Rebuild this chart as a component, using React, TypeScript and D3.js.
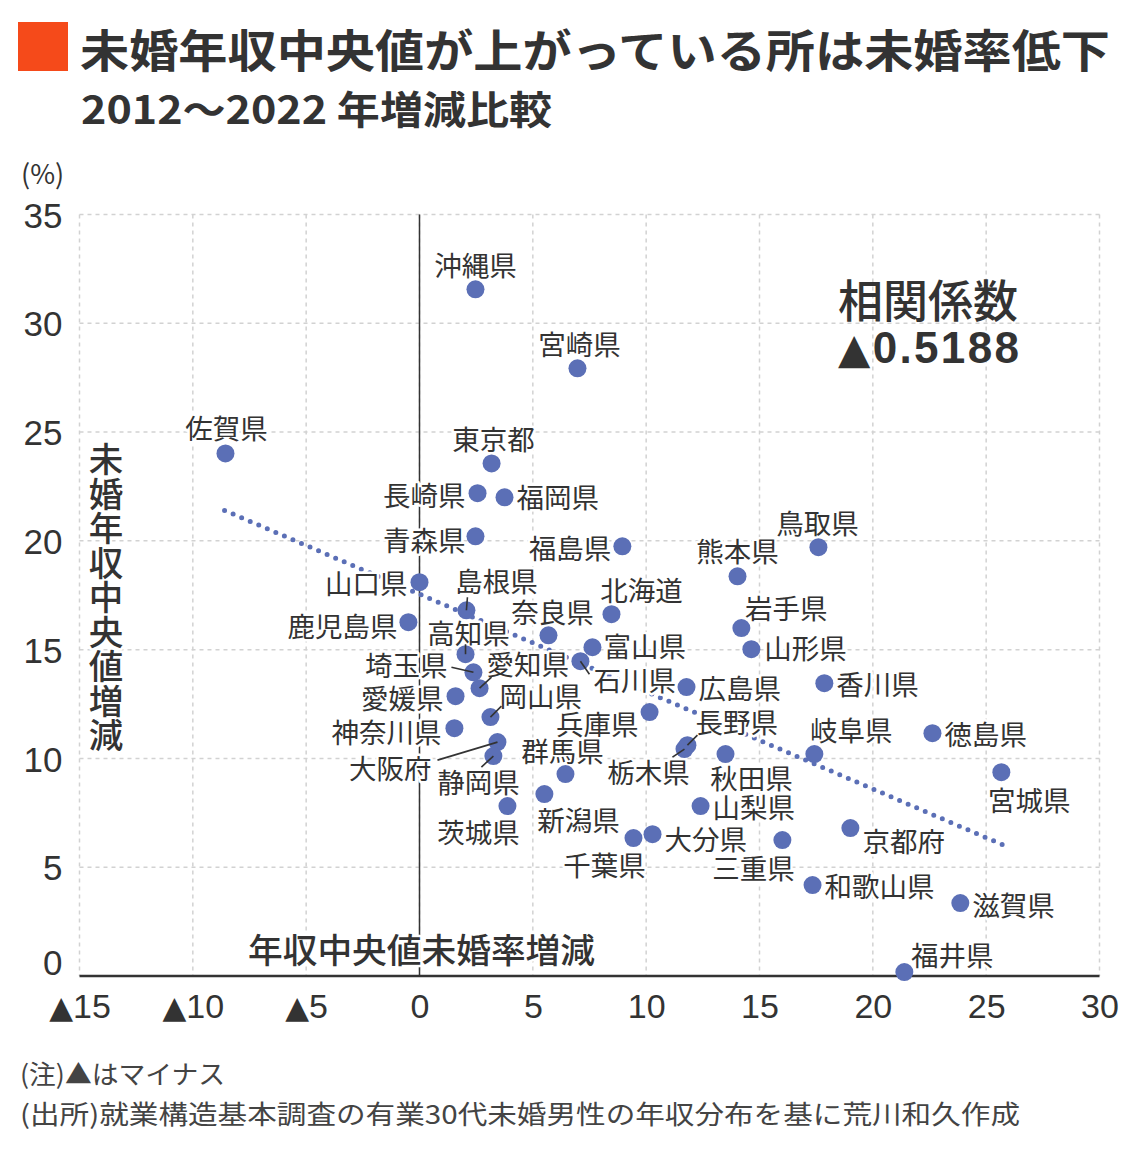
import React, { useEffect, useRef } from 'react'
import * as d3 from 'd3'

// 都道府県別 2012→2022 の増減（%）
const prefectures = [
  '沖縄県', '宮崎県', '佐賀県', '東京都', '長崎県', '福岡県', '青森県', '福島県',
  '鳥取県', '熊本県', '山口県', '島根県', '北海道', '鹿児島県', '岩手県', '奈良県',
  '富山県', '山形県', '高知県', '石川県', '埼玉県', '愛知県', '香川県', '広島県',
  '愛媛県', '兵庫県', '岡山県', '神奈川県', '徳島県', '大阪府', '静岡県', '長野県',
  '栃木県', '秋田県', '岐阜県', '宮城県', '群馬県', '新潟県', '茨城県', '山梨県',
  '京都府', '千葉県', '大分県', '三重県', '和歌山県', '滋賀県', '福井県',
]
// x: 年収中央値の増減
const incomeChange = [
  2.47, 6.97, -8.56, 3.18, 2.56, 3.75, 2.47, 8.95,
  17.6, 14.03, 0.0, 2.07, 8.47, -0.49, 14.2, 5.69,
  7.63, 14.64, 2.03, 7.1, 2.38, 2.65, 17.86, 11.78,
  1.59, 10.15, 3.13, 1.54, 22.63, 3.44, 3.26, 11.82,
  11.69, 13.5, 17.42, 25.67, 6.44, 5.51, 3.88, 12.4,
  19.01, 9.44, 10.28, 16.01, 17.34, 23.86, 21.39,
]
// y: 未婚率の増減
const unmarriedChange = [
  31.56, 27.93, 24.02, 23.56, 22.19, 22.0, 20.21, 19.75,
  19.71, 18.37, 18.1, 16.81, 16.63, 16.26, 15.99, 15.66,
  15.11, 15.02, 14.79, 14.47, 13.96, 13.23, 13.46, 13.28,
  12.86, 12.13, 11.9, 11.39, 11.16, 10.75, 10.11, 10.61,
  10.43, 10.2, 10.2, 9.37, 9.28, 8.36, 7.81, 7.81,
  6.8, 6.34, 6.52, 6.25, 4.18, 3.35, 0.18,
]

const xTicks = [-15, -10, -5, 0, 5, 10, 15, 20, 25, 30]
const xTickLabels = ['▲15', '▲10', '▲5', '0', '5', '10', '15', '20', '25', '30']
const yTicks = [0, 5, 10, 15, 20, 25, 30, 35]
const yTickLabels = ['0', '5', '10', '15', '20', '25', '30', '35']

// 回帰直線の両端
const trendX = [-8.6, 25.8]
const trendY = [21.4, 6.0]

const title = '未婚年収中央値が上がっている所は未婚率低下'
const subtitle = '2012～2022 年増減比較'
const yTitle = '未婚年収中央値増減'
const xTitle = '年収中央値未婚率増減'
const corrTitle = '相関係数'
const corrValue = '▲0.5188'
const notes = [
  '(注)▲はマイナス',
  '(出所)就業構造基本調査の有業30代未婚男性の年収分布を基に荒川和久作成',
]

// ラベル配置: [dx, dy, anchor, leaderDx?, leaderDy?]
type Place = [number, number, 'start' | 'middle' | 'end', number?, number?]
const labelPlace: Record<string, Place> = {
  沖縄県: [0, -25, 'middle'],
  宮崎県: [2, -25, 'middle'],
  佐賀県: [1, -26, 'middle'],
  東京都: [2, -25, 'middle'],
  長崎県: [-12, 1, 'end'],
  福岡県: [12, -1, 'start'],
  青森県: [-10, 3, 'end'],
  福島県: [-11, 1, 'end'],
  鳥取県: [-1, -25, 'middle'],
  熊本県: [0, -26, 'middle'],
  山口県: [-12, 0, 'end'],
  島根県: [30, -30, 'middle', 1, -13],
  北海道: [30, -25, 'middle'],
  鹿児島県: [-11, 3, 'end'],
  岩手県: [45, -21, 'middle'],
  奈良県: [4, -24, 'middle'],
  富山県: [11, -2, 'start'],
  山形県: [13, -2, 'start'],
  高知県: [3, -22, 'middle', 0, -10],
  石川県: [13, 18, 'start', 9, 13],
  埼玉県: [-26, -8, 'end', -22, -5],
  愛知県: [7, -25, 'start', 12, -11],
  香川県: [12, 0, 'start'],
  広島県: [12, 0, 'start'],
  愛媛県: [-12, 1, 'end'],
  兵庫県: [-11, 11, 'end'],
  岡山県: [9, -22, 'start', 11, -11],
  神奈川県: [-13, 3, 'end'],
  徳島県: [12, 0, 'start'],
  大阪府: [-66, 25, 'end', -60, 18],
  静岡県: [-15, 25, 'middle', -12, 11],
  長野県: [8, -24, 'start', 10, -10],
  栃木県: [-36, 22, 'middle', -12, 8],
  秋田県: [26, 23, 'middle'],
  岐阜県: [37, -25, 'middle'],
  宮城県: [28, 27, 'middle'],
  群馬県: [-3, -24, 'middle'],
  新潟県: [34, 25, 'middle'],
  茨城県: [-29, 25, 'middle'],
  山梨県: [12, 0, 'start'],
  京都府: [12, 12, 'start'],
  千葉県: [-29, 26, 'middle'],
  大分県: [12, 4, 'start'],
  三重県: [-29, 27, 'middle'],
  和歌山県: [12, 0, 'start'],
  滋賀県: [12, 1, 'start'],
  福井県: [48, -18, 'middle'],
}

const JP = '"Noto Sans CJK JP", "Noto Sans", sans-serif'
const NUM = '"Liberation Sans", "Noto Sans CJK JP", sans-serif'
const TRI = '"DejaVu Sans", sans-serif'
const DOT = '#5b6fb6'
const INK = '#333333'

// ▲ を細めのグリフで描く
const splitTriangle = (
  sel: d3.Selection<SVGTextElement, any, any, any>,
  label: string,
  triSize: number,
) => {
  sel.text(null)
  if (label.startsWith('▲')) {
    sel
      .append('tspan')
      .attr('font-family', TRI)
      .attr('font-size', triSize)
      .text('▲')
    sel.append('tspan').text(label.slice(1))
  } else {
    sel.append('tspan').text(label)
  }
}

const App: React.FC = () => {
  const svgRef = useRef<SVGSVGElement>(null)

  useEffect(() => {
    const svg = d3.select(svgRef.current)
    svg.selectAll('*').remove()

    const x = d3.scaleLinear().domain([-15, 30]).range([79.5, 1099.5])
    const y = d3.scaleLinear().domain([0, 35]).range([976, 214.5])

    const data = prefectures.map((name, i) => ({
      name,
      x: incomeChange[i],
      y: unmarriedChange[i],
    }))

    // header
    svg
      .append('rect')
      .attr('x', 18)
      .attr('y', 22)
      .attr('width', 50)
      .attr('height', 49)
      .attr('fill', '#f54a1a')
    svg
      .append('text')
      .attr('x', 80)
      .attr('y', 48)
      .attr('dominant-baseline', 'central')
      .attr('font-family', JP)
      .attr('font-weight', 700)
      .attr('font-size', 45)
      .attr('fill', INK)
      .attr('textLength', 1030)
      .attr('lengthAdjust', 'spacingAndGlyphs')
      .text(title)
    svg
      .append('text')
      .attr('x', 81)
      .attr('y', 107)
      .attr('dominant-baseline', 'central')
      .attr('font-family', JP)
      .attr('font-weight', 700)
      .attr('font-size', 39)
      .attr('fill', INK)
      .attr('textLength', 471)
      .attr('lengthAdjust', 'spacingAndGlyphs')
      .text(subtitle)
    svg
      .append('text')
      .attr('x', 21)
      .attr('y', 172)
      .attr('dominant-baseline', 'central')
      .attr('font-family', JP)
      .attr('font-size', 27)
      .attr('fill', INK)
      .text('(%)')

    // grid
    const grid = svg.append('g')
    grid
      .selectAll('line.gx')
      .data(xTicks)
      .enter()
      .append('line')
      .attr('x1', (d) => x(d))
      .attr('x2', (d) => x(d))
      .attr('y1', y(35))
      .attr('y2', y(0))
    grid
      .selectAll('line.gy')
      .data(yTicks.filter((d) => d > 0))
      .enter()
      .append('line')
      .attr('x1', x(-15))
      .attr('x2', x(30))
      .attr('y1', (d) => y(d))
      .attr('y2', (d) => y(d))
    grid
      .selectAll('line')
      .attr('stroke', '#d2d2d2')
      .attr('stroke-width', 1.5)
      .attr('stroke-dasharray', '4 4')

    // zero line and x axis line
    svg
      .append('line')
      .attr('x1', x(0))
      .attr('x2', x(0))
      .attr('y1', y(35))
      .attr('y2', y(0))
      .attr('stroke', INK)
      .attr('stroke-width', 1.5)
    svg
      .append('line')
      .attr('x1', x(-15))
      .attr('x2', x(30))
      .attr('y1', y(0))
      .attr('y2', y(0))
      .attr('stroke', INK)
      .attr('stroke-width', 2.5)

    // tick labels
    svg
      .append('g')
      .attr('transform', `translate(0,${y(0)})`)
      .call(
        d3
          .axisBottom(x)
          .tickValues(xTicks)
          .tickSize(0)
          .tickPadding(18)
          .tickFormat((_, i) => xTickLabels[i]),
      )
      .call((g) => g.select('.domain').remove())
      .call((g) =>
        g
          .selectAll<SVGTextElement, number>('.tick text')
          .attr('font-family', NUM)
          .attr('font-size', 34)
          .attr('fill', INK)
          .each(function (_, i) {
            splitTriangle(d3.select(this), xTickLabels[i], 31)
          }),
      )
    svg
      .append('g')
      .attr('transform', `translate(${x(-15)},0)`)
      .call(
        d3
          .axisLeft(y)
          .tickValues(yTicks)
          .tickSize(0)
          .tickPadding(17)
          .tickFormat((_, i) => yTickLabels[i]),
      )
      .call((g) => g.select('.domain').remove())
      .call((g) =>
        g
          .selectAll<SVGTextElement, number>('.tick text')
          .attr('font-family', NUM)
          .attr('font-size', 35)
          .attr('fill', INK)
          .attr('dy', (d) => (d === 0 ? '-0.05em' : '0.36em')),
      )

    // trend line
    svg
      .append('path')
      .datum(trendX.map((v, i) => [v, trendY[i]] as [number, number]))
      .attr(
        'd',
        d3
          .line<[number, number]>()
          .x((d) => x(d[0]))
          .y((d) => y(d[1])),
      )
      .attr('fill', 'none')
      .attr('stroke', DOT)
      .attr('stroke-width', 5)
      .attr('stroke-linecap', 'round')
      .attr('stroke-dasharray', '0 9.3')

    // axis titles
    const halo = (sel: d3.Selection<SVGTextElement, any, any, any>) =>
      sel
        .attr('stroke', '#fff')
        .attr('stroke-width', 5)
        .attr('stroke-linejoin', 'round')
        .attr('paint-order', 'stroke')

    svg
      .append('text')
      .attr('x', 106)
      .attr('y', 442)
      .attr('writing-mode', 'vertical-rl')
      .style('text-orientation', 'upright')
      .attr('font-family', JP)
      .attr('font-weight', 500)
      .attr('font-size', 34.5)
      .attr('fill', INK)
      .text(yTitle)
      .call(halo)

    svg
      .append('text')
      .attr('x', 248)
      .attr('y', 948)
      .attr('dominant-baseline', 'central')
      .attr('font-family', JP)
      .attr('font-weight', 500)
      .attr('font-size', 34)
      .attr('fill', INK)
      .attr('textLength', 347)
      .attr('lengthAdjust', 'spacingAndGlyphs')
      .text(xTitle)
      .call(halo)

    // correlation
    svg
      .append('text')
      .attr('x', 838)
      .attr('y', 298)
      .attr('dominant-baseline', 'central')
      .attr('font-family', JP)
      .attr('font-weight', 500)
      .attr('font-size', 45)
      .attr('fill', INK)
      .attr('textLength', 180)
      .attr('lengthAdjust', 'spacingAndGlyphs')
      .text(corrTitle)
    svg
      .append('text')
      .attr('x', 838)
      .attr('y', 363)
      .attr('font-family', NUM)
      .attr('font-weight', 700)
      .attr('font-size', 44)
      .attr('fill', INK)
      .attr('textLength', 181)
      .attr('lengthAdjust', 'spacing')
      .call((t) => splitTriangle(t, corrValue, 42))

    // labels
    svg
      .append('g')
      .selectAll('text')
      .data(data)
      .enter()
      .append('text')
      .attr('x', (d) => x(d.x) + labelPlace[d.name][0])
      .attr('y', (d) => y(d.y) + labelPlace[d.name][1])
      .attr('text-anchor', (d) => labelPlace[d.name][2])
      .attr('dominant-baseline', 'central')
      .attr('font-family', JP)
      .attr('font-size', 27.5)
      .attr('fill', INK)
      .text((d) => d.name)
      .call(halo)

    // points
    svg
      .append('g')
      .selectAll('circle')
      .data(data)
      .enter()
      .append('circle')
      .attr('cx', (d) => x(d.x))
      .attr('cy', (d) => y(d.y))
      .attr('r', 9)
      .attr('fill', DOT)

    // leaders
    svg
      .append('g')
      .selectAll('line')
      .data(data.filter((d) => labelPlace[d.name][3] !== undefined))
      .enter()
      .append('line')
      .attr('x1', (d) => x(d.x))
      .attr('y1', (d) => y(d.y))
      .attr('x2', (d) => x(d.x) + (labelPlace[d.name][3] as number))
      .attr('y2', (d) => y(d.y) + (labelPlace[d.name][4] as number))
      .attr('stroke', INK)
      .attr('stroke-width', 1.6)

    // notes
    svg
      .append('g')
      .selectAll('text')
      .data(notes)
      .enter()
      .append('text')
      .attr('x', 20)
      .attr('y', (_, i) => 1072 + i * 40)
      .attr('dominant-baseline', 'central')
      .attr('font-family', JP)
      .attr('font-size', 26)
      .attr('fill', '#444')
      .attr('textLength', (_, i) => (i === 0 ? 205 : 1000))
      .attr('lengthAdjust', 'spacingAndGlyphs')
      .text((d) => d)
  }, [])

  return (
    <div style={{ position: 'absolute', left: 0, top: 0 }}>
      <svg
        ref={svgRef}
        width={1148}
        height={1150}
        style={{ display: 'block', background: '#fff' }}
      ></svg>
    </div>
  )
}

export default App
